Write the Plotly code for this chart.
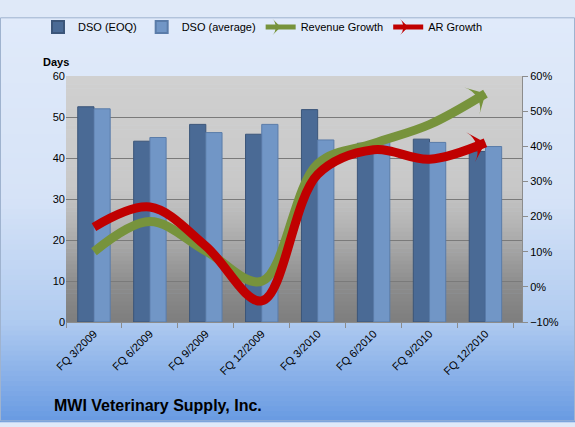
import plotly.graph_objects as go

categories = ["FQ 3/2009", "FQ 6/2009", "FQ 9/2009", "FQ 12/2009",
              "FQ 3/2010", "FQ 6/2010", "FQ 9/2010", "FQ 12/2010"]
dso_eoq = [52.5, 44.1, 48.2, 45.8, 51.8, 43.6, 44.6, 41.6]
dso_avg = [52.0, 45.0, 46.2, 48.2, 44.4, 43.8, 43.8, 42.8]
revenue_growth = [10.0, 18.6, 10.2, 1.6, 35.0, 40.8, 46.2, 55.0]
ar_growth = [17.0, 22.7, 11.6, -4.0, 32.0, 39.0, 36.3, 41.0]

W, H = 575, 427
L, R, T, B = 66, 53, 62, 105
PW, PH = W - L - R, H - T - B

def px_to_paper_y(py):
    return (H - B - py) / PH

def px_to_paper_x(px):
    return (px - L) / PW

def lerp_color(stops, t):
    for (t0, c0), (t1, c1) in zip(stops, stops[1:]):
        if t0 <= t <= t1:
            f = 0 if t1 == t0 else (t - t0) / (t1 - t0)
            return "rgb(%d,%d,%d)" % tuple(round(a + (b - a) * f) for a, b in zip(c0, c1))
    return "rgb(%d,%d,%d)" % stops[-1][1]

shapes = []
# figure background gradient
bg_stops = [(0.0, (224, 234, 250)), (0.45, (214, 227, 247)), (0.75, (176, 203, 240)), (1.0, (104, 154, 226))]
N = 80
for i in range(N):
    y0 = H * i / N
    y1 = H * (i + 1) / N + 1
    shapes.append(dict(type="rect", xref="paper", yref="paper", layer="below",
                       x0=px_to_paper_x(0), x1=px_to_paper_x(W),
                       y0=px_to_paper_y(y1), y1=px_to_paper_y(y0),
                       line=dict(width=0), fillcolor=lerp_color(bg_stops, (i + 0.5) / N)))
# plot area gradient
pa_stops = [(0.0, (208, 208, 208)), (0.45, (200, 200, 200)), (0.62, (178, 178, 178)), (0.85, (140, 140, 140)), (1.0, (126, 126, 126))]
M = 60
for i in range(M):
    shapes.append(dict(type="rect", xref="paper", yref="paper", layer="below",
                       x0=0, x1=1, y0=1 - (i + 1) / M - 0.002, y1=1 - i / M,
                       line=dict(width=0), fillcolor=lerp_color(pa_stops, (i + 0.5) / M)))
# outer border
shapes.append(dict(type="rect", xref="paper", yref="paper", layer="above",
                   x0=px_to_paper_x(0.5), x1=px_to_paper_x(W - 0.5),
                   y0=px_to_paper_y(H - 0.5), y1=px_to_paper_y(0.5),
                   line=dict(width=1, color="#9fb3cf"), fillcolor="rgba(0,0,0,0)"))

fig = go.Figure()
fig.add_trace(go.Bar(x=categories, y=dso_eoq, name="DSO (EOQ)",
                     marker=dict(color="#4a6a95", line=dict(color="#3b5579", width=1))))
fig.add_trace(go.Bar(x=categories, y=dso_avg, name="DSO (average)",
                     marker=dict(color="#7196c6", line=dict(color="#5a7ca9", width=1))))

n = len(categories)
arrow_sizes = [0] * (n - 1) + [22]
fig.add_trace(go.Scatter(x=categories, y=revenue_growth, name="Revenue Growth", yaxis="y2",
                         mode="lines+markers", line=dict(color="#77933c", width=9, shape="spline", smoothing=1),
                         marker=dict(symbol="arrow-wide", angleref="previous", size=arrow_sizes,
                                     color="#77933c", opacity=1, line=dict(width=0))))
fig.add_trace(go.Scatter(x=categories, y=ar_growth, name="AR Growth", yaxis="y2",
                         mode="lines+markers", line=dict(color="#c00000", width=9, shape="spline", smoothing=1),
                         marker=dict(symbol="arrow-wide", angleref="previous", size=arrow_sizes,
                                     color="#c00000", opacity=1, line=dict(width=0))))

font_family = "Liberation Sans, Arial, sans-serif"
fig.update_layout(
    width=W, height=H,
    margin=dict(l=L, r=R, t=T, b=B),
    paper_bgcolor="#dfe9f8",
    plot_bgcolor="rgba(0,0,0,0)",
    barmode="group", bargap=0.42, bargroupgap=0,
    font=dict(family=font_family, size=11, color="#000000"),
    showlegend=True,
    legend=dict(orientation="h", x=px_to_paper_x(38), xanchor="left", y=1.14, yanchor="bottom",
                bgcolor="rgba(0,0,0,0)", font=dict(size=11), itemsizing="constant",
                traceorder="normal"),
    xaxis=dict(type="category", tickangle=-45, tickson="boundaries", ticks="outside",
               ticklen=5, tickcolor="#8c8c8c", showline=True, linecolor="#8c8c8c",
               showgrid=False, tickfont=dict(size=11)),
    yaxis=dict(range=[0, 60], dtick=10, showgrid=True, gridcolor="#7a7a7a", gridwidth=1,
               zeroline=False, showline=False, ticks="", tickfont=dict(size=11)),
    yaxis2=dict(range=[-10, 60], dtick=10, overlaying="y", side="right", showgrid=False,
                zeroline=False, ticksuffix="%", ticks="outside", ticklen=5, tickcolor="#8c8c8c",
                showline=True, linecolor="#8c8c8c", tickfont=dict(size=11)),
    shapes=shapes,
    annotations=[
        dict(text="<b>Days</b>", xref="paper", yref="paper", x=px_to_paper_x(56), y=px_to_paper_y(47),
             showarrow=False, font=dict(size=11), xanchor="center", yanchor="middle"),
        dict(text="<b>MWI Veterinary Supply, Inc.</b>", xref="paper", yref="paper",
             x=px_to_paper_x(52), y=px_to_paper_y(410), showarrow=False,
             font=dict(size=16), xanchor="left", yanchor="middle"),
    ],
)

fig.write_html("out.html")
